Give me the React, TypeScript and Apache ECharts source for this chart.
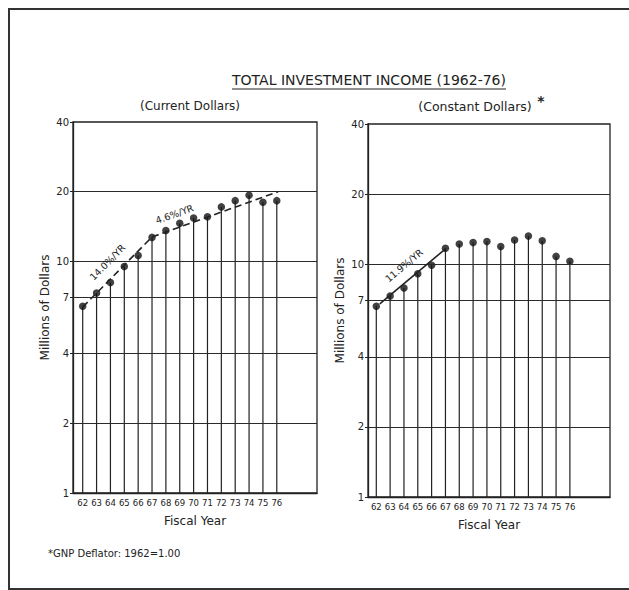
import React, { useEffect, useRef } from "react";
import * as echarts from "echarts";

const years = [62, 63, 64, 65, 66, 67, 68, 69, 70, 71, 72, 73, 74, 75, 76];
const currentDollars = [6.4, 7.3, 8.1, 9.5, 10.6, 12.7, 13.6, 14.6, 15.4, 15.6, 17.2, 18.3, 19.3, 18.0, 18.3];
const constantDollars = [6.6, 7.3, 7.9, 9.1, 9.9, 11.7, 12.2, 12.4, 12.5, 11.9, 12.7, 13.2, 12.6, 10.8, 10.3];
const yTickLabels = [1, 2, 4, 7, 10, 20, 40];
const gridValues = [2, 4, 7, 10, 20];
const currentTrend1 = [[62, 6.35], [67, 12.75]];
const currentTrend2 = [[67, 12.75], [76.1, 20]];
const constantTrend = [[62.25, 6.75], [67.05, 11.7]];
const currentRate1 = "14.0%/YR";
const currentRate2 = "4.6%/YR";
const constantRate = "11.9%/YR";

const FONT = "'DejaVu Sans', sans-serif";
const INK = "#222";

export default function App() {
  const ref = useRef<HTMLDivElement>(null);
  useEffect(() => {
    if (!ref.current) return;
    const chart = echarts.init(ref.current, null, { renderer: "svg" });

    const xAxisBase = (gridIndex: number, min: number, max: number) => ({
      type: "value",
      gridIndex,
      min,
      max,
      name: "Fiscal Year",
      nameLocation: "middle",
      nameGap: 22,
      nameTextStyle: { fontFamily: FONT, fontSize: 12, color: INK },
      axisLine: { show: true, lineStyle: { color: INK, width: 1.3 } },
      axisTick: { show: false },
      splitLine: { show: false },
      axisLabel: {
        customValues: years,
        fontFamily: FONT,
        fontSize: 8.5,
        color: INK,
        margin: 5,
        formatter: (v: number) => String(Math.round(v)),
      },
    });

    const yAxisBase = (gridIndex: number) => ({
      type: "log",
      logBase: 10,
      gridIndex,
      min: 1,
      max: 40,
      name: "Millions of Dollars",
      nameLocation: "middle",
      nameGap: 22,
      nameRotate: 90,
      nameTextStyle: { fontFamily: FONT, fontSize: 12, color: INK },
      axisLine: { show: true, lineStyle: { color: INK, width: 1.3 } },
      axisTick: { show: true, customValues: yTickLabels, length: 3, lineStyle: { color: INK } },
      splitLine: { show: false },
      axisLabel: {
        customValues: yTickLabels,
        fontFamily: FONT,
        fontSize: 10,
        color: INK,
        margin: 4,
      },
    });

    const gridLines = (xi: number) => ({
      type: "line",
      xAxisIndex: xi,
      yAxisIndex: xi,
      data: [],
      silent: true,
      markLine: {
        silent: true,
        symbol: "none",
        label: { show: false },
        lineStyle: { color: "#2a2a2a", width: 1.1, type: "solid" },
        data: gridValues.map((v) => ({ yAxis: v })),
      },
    });

    const stems = (xi: number, vals: number[]) => ({
      type: "custom",
      xAxisIndex: xi,
      yAxisIndex: xi,
      data: years.map((y, i) => [y, vals[i]]),
      encode: { x: 0, y: 1 },
      renderItem: (params: any, api: any) => {
        const x = api.value(0);
        const y = api.value(1);
        const p0 = api.coord([x, 1]);
        const p1 = api.coord([x, y]);
        return {
          type: "line",
          shape: { x1: p0[0], y1: p0[1], x2: p1[0], y2: p1[1] },
          style: { stroke: INK, lineWidth: 1.2 },
        };
      },
    });

    const rateLabel = (text: string, position: string) => ({
      show: true,
      formatter: text,
      position,
      fontFamily: FONT,
      fontSize: 9.5,
      color: INK,
      distance: 9,
    });

    const trendLine = (pts: number[][], text: string, dashed: boolean, position: string) => [
      {
        coord: pts[0],
        lineStyle: { color: INK, width: 1.6, type: dashed ? [7, 4] : "solid" },
        label: rateLabel(text, position),
      },
      { coord: pts[1] },
    ];

    const dots = (xi: number, vals: number[], trends: any[]) => ({
      type: "scatter",
      xAxisIndex: xi,
      yAxisIndex: xi,
      data: years.map((y, i) => [y, vals[i]]),
      symbol: "circle",
      symbolSize: 7.5,
      itemStyle: { color: "#111" },
      markLine: {
        silent: true,
        symbol: "none",
        data: trends,
      },
    });

    chart.setOption({
      animation: false,
      backgroundColor: "#fff",
      grid: [
        { left: 73, top: 122, width: 244, height: 371, show: true, borderColor: INK, borderWidth: 1.3, backgroundColor: "transparent" },
        { left: 368, top: 124, width: 242, height: 373, show: true, borderColor: INK, borderWidth: 1.3, backgroundColor: "transparent" },
      ],
      xAxis: [xAxisBase(0, 61.3, 78.9), xAxisBase(1, 61.4, 78.9)],
      yAxis: [yAxisBase(0), yAxisBase(1)],
      series: [
        gridLines(0),
        gridLines(1),
        stems(0, currentDollars),
        stems(1, constantDollars),
        dots(0, currentDollars, [
          trendLine(currentTrend1, currentRate1, true, "middle"),
          trendLine(currentTrend2, currentRate2, true, "insideStartTop"),
        ]),
        dots(1, constantDollars, [trendLine(constantTrend, constantRate, false, "middle")]),
      ],
      graphic: [
        {
          type: "rect",
          shape: { x: 9, y: 9, width: 640, height: 580 },
          style: { fill: "none", stroke: "#333", lineWidth: 2 },
          silent: true,
        },
        {
          type: "text",
          x: 369,
          y: 80,
          style: {
            text: "TOTAL INVESTMENT INCOME (1962-76)",
            fontFamily: FONT,
            fontSize: 14,
            fill: INK,
            textAlign: "center",
            textVerticalAlign: "middle",
          },
        },
        {
          type: "line",
          shape: { x1: 232, y1: 89, x2: 506, y2: 89 },
          style: { stroke: INK, lineWidth: 1.2 },
        },
        {
          type: "text",
          x: 190,
          y: 106,
          style: {
            text: "(Current Dollars)",
            fontFamily: FONT,
            fontSize: 12,
            fill: INK,
            textAlign: "center",
            textVerticalAlign: "middle",
          },
        },
        {
          type: "text",
          x: 475,
          y: 106,
          style: {
            text: "(Constant Dollars)",
            fontFamily: FONT,
            fontSize: 12.5,
            fill: INK,
            textAlign: "center",
            textVerticalAlign: "middle",
          },
        },
        {
          type: "text",
          x: 541,
          y: 101,
          style: {
            text: "*",
            fontFamily: FONT,
            fontSize: 14,
            fontWeight: "bold",
            fill: INK,
            textAlign: "center",
            textVerticalAlign: "middle",
          },
        },
        {
          type: "text",
          x: 48,
          y: 553,
          style: {
            text: "*GNP Deflator: 1962=1.00",
            fontFamily: FONT,
            fontSize: 10,
            fill: INK,
            textAlign: "left",
            textVerticalAlign: "middle",
          },
        },
      ],
    });
    return () => chart.dispose();
  }, []);
  return (
    <div
      ref={ref}
      style={{ position: "fixed", left: 0, top: 0, width: 629, height: 590 }}
    />
  );
}
